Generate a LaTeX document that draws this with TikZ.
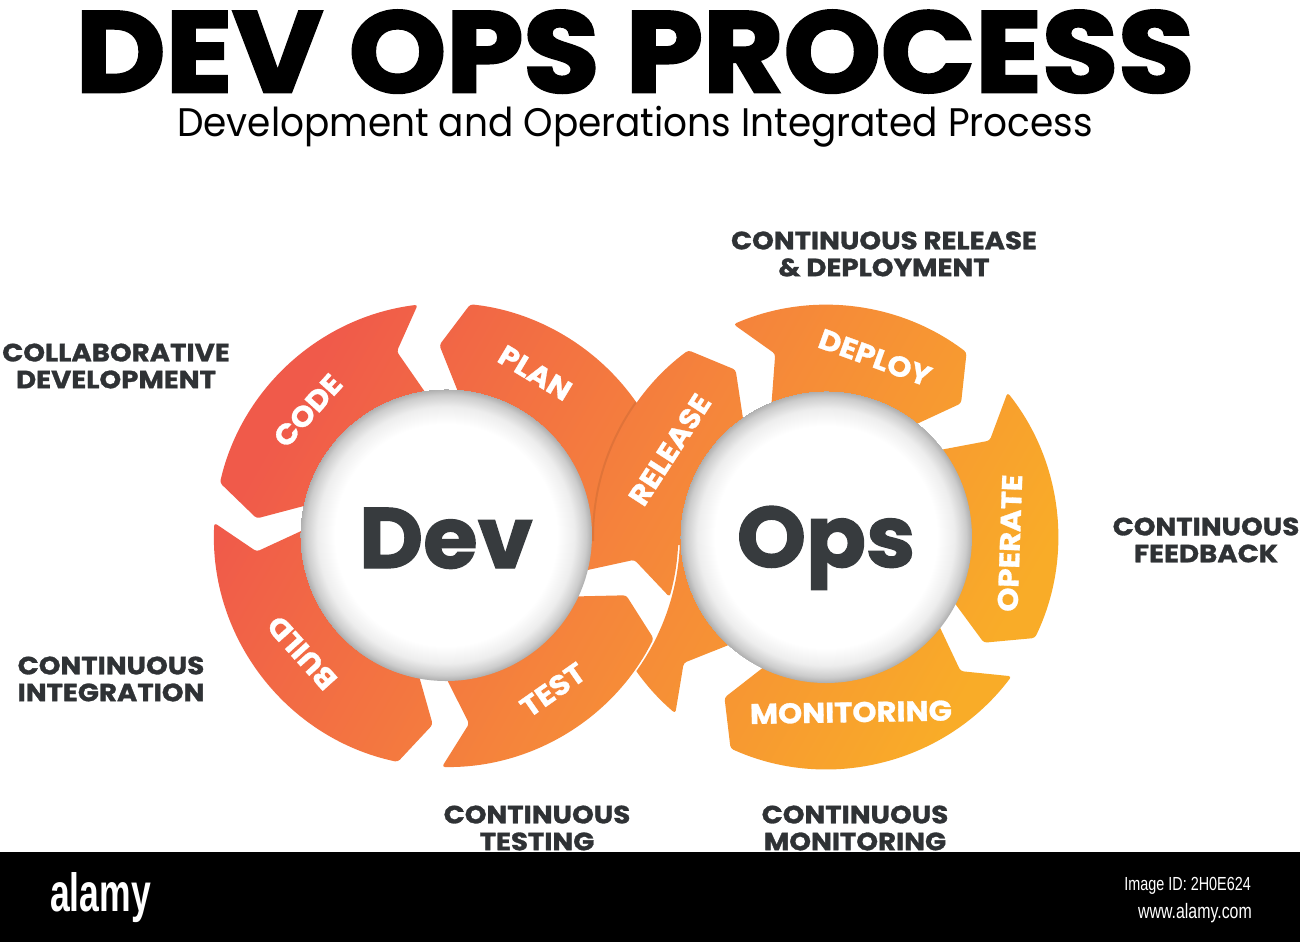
\documentclass[tikz,border=0pt]{standalone}
\usepackage{fontspec}
\setmainfont{Poppins}
\newfontfamily\titlefont{Poppins}[BoldFeatures={FakeBold=2.5, FakeStretch=1.08}]
\newfontfamily\subfont{Poppins}[FakeStretch=0.94]
\newfontfamily\labelfont{Poppins}[BoldFeatures={FakeBold=1.2, FakeStretch=1.11}]
\newfontfamily\segfont{Poppins}[BoldFeatures={FakeBold=1, FakeStretch=1.08}]
\newfontfamily\hubfont{Poppins}[BoldFeatures={FakeBold=1.5, FakeStretch=1.03}]
\newfontfamily\wmfont{Liberation Sans}
\usetikzlibrary{calc}
\definecolor{cA}{HTML}{F05A4A}
\definecolor{cB}{HTML}{F5853B}
\definecolor{cC}{HTML}{F9AC28}
\definecolor{txt}{HTML}{2F3235}
\definecolor{bigtxt}{HTML}{373B3E}
\pgfdeclareradialshading{sphere}{\pgfpoint{0bp}{0bp}}{color(0bp)=(white); color(19bp)=(white); color(22bp)=(black!7); color(24bp)=(black!20); color(25bp)=(black!32)}
\def\Ro{232}\def\Rm{190}\def\Ri{138}\def\dd{8}
\newcommand{\ringseg}[3]{%
  \pgfmathsetmacro\Am{#1+#3*\dd}%
  \pgfmathsetmacro\Bm{#2+#3*\dd}%
  \begin{scope}
    \clip[rounded corners=3] (#1:\Ro) arc[start angle=#1,end angle=#2,radius=\Ro] -- (\Bm:\Rm) -- (#2:\Ri) arc[start angle=#2,end angle=#1,radius=\Ri] -- (\Am:\Rm) -- cycle;
    \shade[ringfill] (sh1) rectangle (sh2);
  \end{scope}}
\tikzset{
  ringfill/.style={left color=cA, right color=cC, middle color=cB, shading angle=60},
  seglabel/.style={text=white, font=\segfont\bfseries\fontsize{28.5}{28.5}\selectfont, inner sep=0},
  outlabel/.style={text=txt, font=\labelfont\bfseries\fontsize{25}{27}\selectfont, align=center, inner sep=0},
  hub/.style={circle, minimum size=292bp, inner sep=0, shading=sphere},
  hubtext/.style={anchor=base, text=bigtxt, font=\hubfont\bfseries\fontsize{86}{86}\selectfont, inner sep=0},
}
\begin{document}
\begin{tikzpicture}[x=1bp,y=1bp]
\useasboundingbox (0,0) rectangle (1300,-942);
\fill[white] (0,0) rectangle (1300,-942);
\coordinate (D) at (446,-535);
\coordinate (O) at (826,-537);
\coordinate (sh1) at (200,-290);
\coordinate (sh2) at (1070,-785);
% Dev ring (flow counter-clockwise)
\begin{scope}[shift={(D)}]
  \ringseg{-15.5}{84}{1}   % PLAN
  \ringseg{97}{167}{1}     % CODE
  \ringseg{177}{258}{1}    % BUILD
  \ringseg{269}{333.5}{1}  % TEST
\end{scope}
% Ops ring (flow clockwise)
\begin{scope}[shift={(O)}]
  \ringseg{113.5}{52.7}{-1}   % DEPLOY
  \ringseg{38.5}{-25.8}{-1}   % OPERATE
  \ringseg{-36.9}{-114.3}{-1} % MONITORING
\end{scope}
% RELEASE: over PLAN at the top, under the Dev ring at the bottom
\begin{scope}[even odd rule]
  \clip (0,0) rectangle (1300,-942) (D) ++(-2.5:234) arc[start angle=-2.5,end angle=-182.5,radius=234] -- cycle;
  \begin{scope}[shift={(O)}]
    \ringseg{229.5}{126.4}{-1}
  \end{scope}
\end{scope}
% soft edge of RELEASE where it lies over PLAN
\begin{scope}
  \clip (D) circle[radius=232];
  \draw[black, opacity=0.08, line width=2] (O) ++(128:233) arc[start angle=128,end angle=181,radius=233];
\end{scope}
% hubs
\node[hub] (devc) at (D) {};
\node[hub] (opsc) at (O) {};
\node[hubtext] (devt) at (446,-568) {Dev};
\node[hubtext] (opst) at (826,-567) {Ops};
% segment labels
\begin{scope}[shift={(D)}]
  \node[seglabel, rotate=48] (lcode) at (138:186) {CODE};
  \node[seglabel, rotate=-31] (lplan) at (61.2:185) {PLAN};
  \node[seglabel, rotate=132] (lbuild) at (219.3:186) {BUILD};
  \node[seglabel, rotate=35] (ltest) at (-55.4:188) {TEST};
\end{scope}
\begin{scope}[shift={(O)}]
  \node[seglabel, rotate=57] (lrelease) at (150.8:179) {RELEASE};
  \node[seglabel, rotate=-20] (ldeploy) at (74.7:186) {DEPLOY};
  \node[seglabel, rotate=88] (loperate) at (-1.9:184) {OPERATE};
  \node[seglabel, rotate=1] (lmonitor) at (-81.9:177) {MONITORING};
\end{scope}
% outer labels
\node[outlabel] (lcrd) at (884,-254) {CONTINUOUS RELEASE\\\& DEPLOYMENT};
\node[outlabel] (lcd) at (116,-366) {COLLABORATIVE\\DEVELOPMENT};
\node[outlabel] (lcf) at (1206,-540) {CONTINUOUS\\FEEDBACK};
\node[outlabel] (lci) at (111,-679) {CONTINUOUS\\INTEGRATION};
\node[outlabel] (lct) at (537,-828) {CONTINUOUS\\TESTING};
\node[outlabel] (lcm) at (855,-828) {CONTINUOUS\\MONITORING};
% title
\node[anchor=base, inner sep=0, font=\titlefont\bfseries\fontsize{115}{115}\selectfont] (title) at (635,-92) {DEV OPS PROCESS};
\node[anchor=base, inner sep=0, font=\subfont\fontsize{40}{40}\selectfont] (subtitle) at (635,-136) {Development and Operations Integrated Process};
% footer band
\fill[black] (0,-852) rectangle (1300,-942);
\node[anchor=base west, inner sep=0, text=white, font=\wmfont\bfseries\fontsize{54}{54}\selectfont] (alamy) at (50,-911) {\scalebox{0.66}[1]{alamy}};
\node[anchor=base east, inner sep=0, text=white, font=\wmfont\fontsize{19}{19}\selectfont] (imgid) at (1251,-890) {\scalebox{0.76}[1]{Image ID: 2H0E624}};
\node[anchor=base east, inner sep=0, text=white, font=\wmfont\fontsize{21}{21}\selectfont] (www) at (1252,-918) {\scalebox{0.76}[1]{www.alamy.com}};
\end{tikzpicture}
\end{document}
